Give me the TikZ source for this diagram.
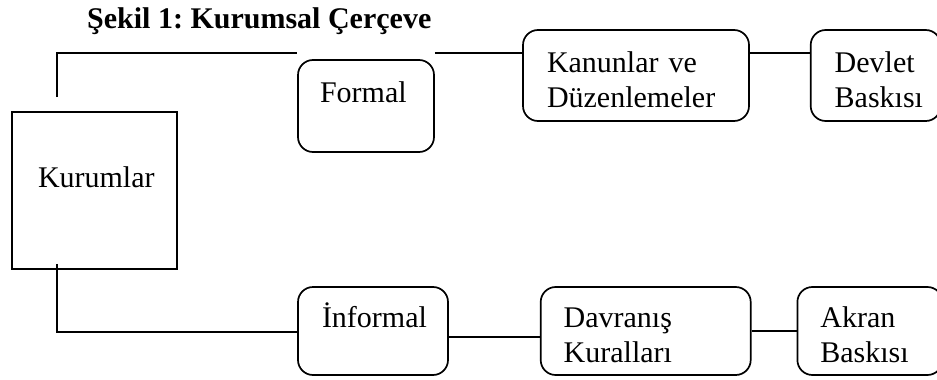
\documentclass[tikz,border=0pt]{standalone}
\usepackage{fontspec}
\setmainfont{Liberation Serif}
\usetikzlibrary{positioning}
\hyphenpenalty=10000
\frenchspacing
\begin{document}
\begin{tikzpicture}[
    x=1pt, y=-1pt,
    kutu/.style={draw=black, line width=1.7pt, rounded corners=15pt, align=left, inner sep=0pt,
        text height=21pt, text depth=28pt, font=\fontsize{30}{35}\selectfont, minimum height=88pt},
    kurum/.style={kutu, sharp corners},
    hat/.style={draw=black, line width=1.7pt},
    baslikyazi/.style={font=\fontsize{30}{35}\selectfont\bfseries, inner sep=0pt, anchor=base west}
]
\useasboundingbox (0,0) rectangle (937,380);

% ---------- Title ----------
\node[baslikyazi] (baslik) at (87,28) {Şekil 1: Kurumsal Çerçeve};

% ---------- Nodes ----------
\node[kurum, minimum width=165pt, minimum height=157pt, text width=113pt] (kurumlar) at (94.5,190.5) {Kurumlar};

\node[kutu, minimum width=136pt, minimum height=92pt, text width=92pt] (formal) at (366,106) {Formal};
\node[kutu, minimum width=226pt, minimum height=91pt, text width=178pt] (kanun) at (636,75.5) {Kanunlar ve\\Düzenlemeler};
\node[kutu, right=60pt of kanun, minimum width=130pt, minimum height=91pt, text width=82pt] (devlet) {Devlet\\Baskısı};

\node[kutu, minimum width=150pt, text width=102pt] (informal) at (373,331) {İnformal};
\node[kutu, right=91pt of informal, minimum width=210pt, text width=164pt] (davranis) {Davranış\\Kuralları};
\node[kutu, right=45pt of davranis, minimum width=145pt, text width=99pt] (akran) {Akran\\Baskısı};

% ---------- Connectors ----------
\coordinate (ustkose) at (57,53);
\coordinate (altkose) at (57,332);

\draw[hat] ([yshift=14pt]kurumlar.north -| ustkose) -- (ustkose) -- (ustkose -| formal.west);
\draw[hat] (ustkose -| formal.east) -- (ustkose -| kanun.west);
\draw[hat] (ustkose -| kanun.east) -- (ustkose -| devlet.west);

\draw[hat] ([yshift=6pt]kurumlar.south -| altkose) -- (altkose) -- (altkose -| informal.west);
\draw[hat] ([yshift=-6pt]informal.east) -- ([yshift=-6pt]informal.east -| davranis.west);
\draw[hat] (davranis.east) -- (akran.west);

\end{tikzpicture}
\end{document}
